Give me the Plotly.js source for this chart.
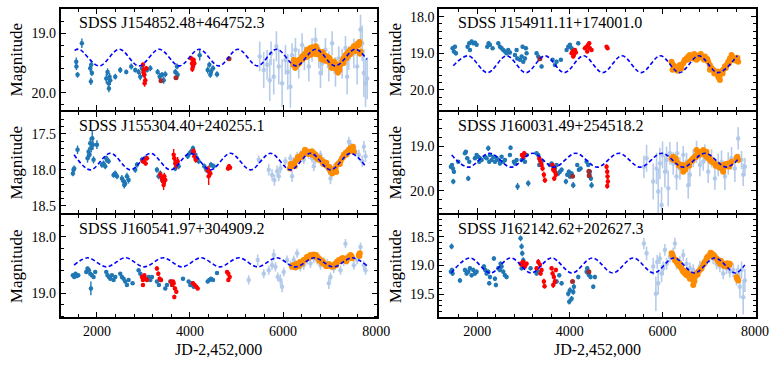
<!DOCTYPE html>
<html>
<head>
<meta charset="utf-8">
<script src="https://cdn.plot.ly/plotly-3.0.1.min.js"></script>
<style>body{margin:0;background:#fff}#plotArea{width:780px;height:365px}</style>
</head>
<body>
<div id="plotArea"></div>
<script>
// light curves, rows are [JD-2452000, magnitude, error]
var names = ["SDSS J154852.48+464752.3", "SDSS J154911.11+174001.0", "SDSS J155304.40+240255.1",
	"SDSS J160031.49+254518.2", "SDSS J160541.97+304909.2", "SDSS J162142.62+202627.3"];

// ---- J154852.48+464752.3
var p1Crts = [[1556,19.48,.07],[1560,19.56,.06],[1584,19.70,.05],[1677,19.17,.08],
	[1857,19.59,.06],[1878,19.53,.07],[1892,19.67,.05],[1871,19.81,.06],
	[2201,19.76,.08],[2229,19.65,.06],[2251,19.84,.07],[2272,19.73,.06],[2287,19.79,.08],[2258,19.93,.06],
	[2394,19.73,.05],[2502,19.62,.05],[2631,19.65,.04],[2738,19.56,.05],[2824,19.62,.04],
	[2896,19.65,.05],[2932,19.73,.06],[2968,19.59,.05],[3018,19.70,.05],[3075,19.62,.04],[3147,19.59,.05],
	[3305,19.65,.05],[3348,19.73,.06],[3398,19.70,.05],[3434,19.79,.06],[3469,19.69,.05],
	[3684,19.65,.05],[3720,19.56,.05],[3735,19.70,.06],[4208,19.37,.09],
	[4380,19.62,.06],[4416,19.53,.05],[4451,19.65,.06],[4494,19.59,.05],[4437,19.70,.05],[4580,19.69,.05]];
var p1Red = [[2989,19.53,.04],[3004,19.62,.05],[3018,19.70,.05],[3039,19.79,.06],[3061,19.59,.04],[3025,19.84,.06],[3000,19.66,.05],
	[4021,19.42,.04],[4043,19.51,.04],[4064,19.56,.05],[4079,19.45,.04],[4093,19.51,.04],[4050,19.60,.05],[4070,19.48,.04]];
var p1Dark = [[3376,19.80,.02],[3699,19.75,.02],[4839,19.43,.02]];
var p1Lb = [[5498,19.39,.25],[5584,19.62,.30],[5656,19.53,.25],[5713,19.79,.35],[5742,19.34,.20],[5799,19.73,.30],
	[5856,19.22,.25],[5907,19.56,.30],[5978,19.84,.40],[6050,19.45,.25],[6100,19.65,.30],[6157,19.90,.35],
	[6193,19.37,.20],[6265,19.28,.20],[6337,19.51,.25],[6408,19.20,.20],[6458,19.42,.20],[6552,19.56,.25],
	[6623,19.28,.20],[6695,19.11,.20],[6767,19.39,.20],[6803,19.67,.25],[6838,19.51,.20],[6910,19.28,.20],
	[6982,19.56,.25],[7053,19.17,.20],[7125,19.65,.25],[7197,19.42,.20],[7268,19.51,.25],[7340,19.25,.20],
	[7376,19.73,.30],[7412,19.42,.20],[7519,19.34,.25],[7591,19.56,.30],[7663,18.94,.25],[7699,19.17,.30],
	[7734,19.67,.40],[7770,19.84,.40],[7806,19.76,.35]];
var p1Ztf = [[6215,19.53,.05],[6243,19.49,.05],[6272,19.56,.05],[6301,19.48,.05],[6337,19.45,.05],[6372,19.44,.05],
	[6408,19.39,.05],[6444,19.37,.05],[6480,19.34,.05],[6516,19.28,.05],[6552,19.33,.05],[6588,19.25,.05],
	[6623,19.31,.05],[6659,19.28,.05],[6695,19.35,.05],[6731,19.27,.05],[6767,19.35,.05],[6803,19.37,.05],
	[6838,19.39,.05],[6874,19.42,.05],[6910,19.38,.05],[6946,19.45,.05],[6982,19.48,.05],[7018,19.51,.05],
	[7053,19.53,.05],[7089,19.55,.05],[7125,19.59,.05],[7161,19.62,.05],[7197,19.56,.05],[7233,19.53,.05],
	[7268,19.48,.05],[7304,19.42,.05],[7340,19.37,.05],[7376,19.34,.05],[7412,19.31,.05],[7448,19.28,.05],
	[7484,19.27,.05],[7519,19.22,.05],[7555,19.25,.05],[7627,19.20,.05],[7648,19.34,.05],[7663,19.31,.05],
	[6230,19.45,.05],[6320,19.52,.05],[6500,19.40,.05],[6600,19.36,.05],[6700,19.22,.05],[6850,19.32,.05],
	[7000,19.42,.05],[7100,19.48,.05],[7180,19.66,.05],[7300,19.50,.05],[7450,19.35,.05],[7500,19.26,.05],
	[6260,19.58,.05],[6350,19.50,.05],[6420,19.44,.05],[6530,19.38,.05],[6620,19.24,.05],[6680,19.32,.05],
	[6760,19.30,.05],[6820,19.44,.05],[6900,19.46,.05],[6960,19.40,.05],[7040,19.58,.05],[7140,19.52,.05],
	[7210,19.62,.05],[7290,19.44,.05],[7360,19.42,.05],[7430,19.36,.05],[7540,19.30,.05],[7600,19.18,.05],[7640,19.15,.05]];
var p1CurveX = [1520,1620,2050,2480,2905,3340,3770,4200,4620,5030,5450,5860,6280,6700,7120,7550,7800];
var p1CurveY = [19.29,19.27,19.55,19.27,19.55,19.27,19.55,19.27,19.55,19.27,19.55,19.27,19.55,19.27,19.55,19.27,19.44];

// ---- J154911.11+174001.0
var p2Crts = [[1467,18.86,.05],[1496,18.95,.05],[1518,18.82,.05],[1539,19.00,.06],
	[1791,18.82,.05],[1827,18.73,.05],[1878,18.68,.05],[1914,18.73,.05],[1950,18.71,.05],[1986,18.77,.05],[1842,18.91,.05],
	[2216,18.82,.05],[2245,18.73,.05],[2274,18.77,.05],[2331,18.86,.05],
	[2454,18.73,.05],[2490,18.82,.05],[2526,18.86,.05],[2562,18.91,.05],[2598,18.95,.05],[2634,19.00,.05],[2670,18.91,.05],[2706,18.98,.05],
	[2814,19.05,.05],[2864,19.14,.05],[2922,19.18,.05],[2958,19.09,.05],[2994,19.23,.05],[3030,19.14,.05],[3066,19.00,.05],
	[2850,18.91,.05],[2979,18.82,.05],[3051,18.86,.05],
	[3282,19.00,.05],[3318,19.09,.05],[3390,19.36,.05],
	[3627,19.18,.05],[3678,19.32,.05],[3714,19.23,.05],[3807,19.18,.05],
	[3930,18.91,.05],[3966,18.82,.05],[4002,18.77,.05],[4038,18.86,.05],[4182,18.73,.05]];
var p2Red = [[4038,19.00,.05],[4059,18.95,.05],[4088,19.05,.05],[4110,18.91,.05],[4074,19.09,.05],[4131,18.98,.05],
	[4326,18.86,.05],[4362,18.82,.06],[4398,18.77,.06],[4434,18.86,.05],[4470,18.91,.05],[4376,18.95,.05],[4419,18.73,.06],
	[4794,18.82,.04],[4815,18.86,.04]];
var p2Dark = [[3354,19.15,.02]];
var p2Lb = [];
var p2Ztf = [[6198,19.23,.05],[6219,19.45,.05],[6234,19.32,.05],[6270,19.41,.05],[6306,19.45,.05],[6342,19.36,.05],
	[6378,19.32,.05],[6414,19.41,.05],[6450,19.27,.05],[6486,19.18,.05],[6522,19.14,.05],[6558,19.09,.05],
	[6594,19.05,.05],[6630,19.07,.05],[6666,19.14,.05],[6702,19.09,.05],[6738,19.18,.05],[6774,19.11,.05],
	[6810,19.05,.05],[6846,19.09,.05],[6882,19.14,.05],[6918,19.09,.05],[6954,19.18,.05],[6990,19.23,.05],
	[7026,19.32,.05],[7062,19.41,.05],[7098,19.45,.05],[7134,19.50,.05],[7170,19.55,.05],[7206,19.64,.05],
	[7242,19.59,.05],[7278,19.50,.05],[7314,19.45,.05],[7350,19.36,.05],[7386,19.32,.05],[7422,19.23,.05],
	[7458,19.14,.05],[7494,19.05,.05],[7530,19.18,.05],[7566,19.14,.05],[7602,19.18,.05],[7638,19.23,.05],
	[7242,19.73,.05],[7026,19.45,.05],[6738,19.07,.05],
	[6250,19.38,.05],[6330,19.48,.05],[6400,19.37,.05],[6470,19.22,.05],[6540,19.18,.05],[6610,19.12,.05],
	[6690,19.02,.05],[6760,19.14,.05],[6830,19.02,.05],[6900,19.18,.05],[6970,19.16,.05],[7040,19.38,.05],
	[7120,19.55,.05],[7190,19.50,.05],[7230,19.68,.05],[7300,19.55,.05],[7370,19.40,.05],[7440,19.28,.05],
	[7510,19.10,.05],[7580,19.20,.05],[7620,19.12,.05]];
var p2CurveX = [1482,1806,2221,2636,3051,3466,3881,4296,4711,5126,5541,5956,6371,6786,7201,7616];
var p2CurveY = [19.34,19.07,19.53,19.07,19.53,19.07,19.53,19.07,19.53,19.07,19.53,19.07,19.53,19.07,19.53,19.07];

// ---- J155304.40+240255.1
var p3Crts = [[1484,18.05,.04],[1498,18.00,.04],[1513,17.98,.04],[1584,17.72,.06],
	[1799,17.84,.06],[1821,17.75,.06],[1842,17.79,.05],[1857,17.63,.08],[1878,17.70,.06],[1914,17.65,.07],
	[1928,17.86,.05],[1900,17.56,.10],[2000,17.65,.06],
	[2108,17.93,.04],[2143,17.91,.04],[2179,17.95,.04],[2215,17.86,.04],[2251,17.88,.04],[2201,17.84,.04],
	[2358,18.07,.04],[2394,18.05,.04],[2430,18.09,.04],
	[2538,18.12,.05],[2573,18.16,.05],[2609,18.19,.05],[2645,18.09,.05],[2681,18.14,.05],[2588,18.21,.05],
	[2824,18.00,.04],[2860,17.93,.04],[2968,17.86,.04],[3004,17.88,.04],[3039,17.84,.04],
	[3290,18.00,.04],[3326,18.09,.04],[3362,18.05,.04],[3398,18.14,.04],
	[3684,17.98,.04],[3720,17.91,.04],[3756,17.95,.04],
	[3950,17.81,.04],[3993,17.77,.04],[4021,17.75,.04],[4064,17.70,.04],[4115,17.79,.04],[4150,17.84,.04],[4186,17.88,.04],
	[4308,17.95,.04],[4351,18.00,.04],[4401,18.02,.04],[4451,17.93,.04],[4509,17.95,.04]];
var p3Red = [[2989,17.88,.03],[3018,17.86,.03],[3047,17.91,.03],[3075,17.84,.03],
	[3362,18.07,.05],[3398,18.12,.05],[3419,18.16,.06],[3448,18.09,.05],[3469,18.14,.06],[3434,18.21,.07],
	[3649,17.79,.08],[3663,17.84,.06],[3684,17.91,.06],[3706,17.93,.06],[3735,17.88,.06],
	[4064,17.75,.04],[4079,17.74,.04],[4093,17.81,.04],[4122,17.86,.04],
	[4380,18.00,.05],[4408,18.02,.08],[4437,18.05,.05],[4401,18.09,.12],
	[4817,17.98,.03],[4839,17.95,.03],[4860,17.97,.03]];
var p3Dark = [];
var p3Lb = [[5476,17.86,.06],[5691,18.00,.08],[5763,18.07,.08],[5813,18.14,.08],[5871,18.02,.08],[5907,18.09,.07],
	[5942,17.98,.07],[6050,17.88,.06],[6157,17.84,.06],[6193,18.09,.08],[6229,17.88,.06],[6301,17.81,.06],
	[6372,17.79,.06],[6444,17.86,.06],[6552,17.79,.06],[6623,17.84,.06],[6659,17.95,.07],[6695,17.86,.06],
	[6803,17.79,.06],[6874,17.88,.06],[6982,18.00,.07],[7018,18.12,.08],[7053,18.02,.07],[7089,17.98,.06],
	[7161,17.93,.06],[7233,17.86,.06],[7304,17.79,.06],[7412,17.61,.07],[7448,17.65,.07],[7484,17.70,.06],
	[7555,17.75,.07],[7627,17.79,.07],[7699,17.88,.08],[7734,17.68,.08],[7770,17.81,.08]];
var p3Ztf = [[6143,17.98,.03],[6172,17.95,.03],[6200,17.93,.03],[6229,17.91,.03],[6265,17.88,.03],[6301,17.86,.03],
	[6337,17.84,.03],[6372,17.81,.03],[6408,17.78,.03],[6444,17.77,.03],[6480,17.75,.03],[6516,17.75,.03],
	[6552,17.75,.03],[6588,17.77,.03],[6623,17.79,.03],[6659,17.77,.03],[6695,17.79,.03],[6731,17.84,.03],
	[6767,17.86,.03],[6803,17.86,.03],[6838,17.88,.03],[6874,17.89,.03],[6910,17.93,.03],[6946,17.95,.03],
	[6982,17.98,.03],[7018,18.02,.03],[7053,18.05,.03],[7089,18.00,.03],[7125,17.98,.03],[7161,17.93,.03],
	[7197,17.91,.03],[7233,17.88,.03],[7268,17.84,.03],[7304,17.79,.03],[7340,17.77,.03],[7376,17.75,.03],
	[7412,17.72,.03],[7448,17.70,.03],[7484,17.71,.03],[7519,17.75,.03],
	[6160,17.92,.03],[6250,17.95,.03],[6320,17.82,.03],[6400,17.82,.03],[6470,17.72,.03],[6540,17.78,.03],
	[6620,17.74,.03],[6700,17.82,.03],[6780,17.83,.03],[6860,17.92,.03],[6930,17.90,.03],[7000,17.96,.03],
	[7070,18.02,.03],[7140,18.03,.03],[7220,17.92,.03],[7290,17.82,.03],[7360,17.79,.03],[7430,17.74,.03],[7500,17.68,.03]];
var p3CurveX = [1510,1860,2290,2720,3150,3580,4010,4440,4870,5300,5730,6160,6590,7020,7450,7780];
var p3CurveY = [17.79,18.00,17.77,18.00,17.77,18.00,17.77,18.00,17.77,18.00,17.77,18.00,17.77,18.00,17.77,17.96];

// ---- J160031.49+254518.2
var p4Crts = [[1431,19.46,.04],[1453,19.42,.04],[1474,19.50,.04],[1482,19.79,.06],[1496,19.57,.05],[1590,19.35,.04],
	[1734,19.16,.04],[1755,19.13,.04],[1784,19.27,.04],[1806,19.72,.06],[1827,19.35,.04],
	[1950,19.27,.04],[1986,19.20,.04],[2022,19.24,.04],[2058,19.27,.04],[2094,19.31,.04],[2043,19.35,.04],
	[2166,19.24,.04],[2202,19.27,.04],[2238,19.05,.06],[2274,19.20,.04],[2310,19.31,.04],[2346,19.24,.04],[2259,19.35,.04],
	[2382,19.35,.04],[2418,19.27,.04],[2454,19.31,.04],[2490,19.39,.04],[2526,19.24,.04],[2562,19.35,.04],[2598,19.31,.04],
	[2720,19.04,.05],[2706,19.20,.04],[2792,19.35,.04],[2850,19.31,.04],[2814,19.39,.04],[2871,19.90,.08],[3102,19.83,.07],
	[2958,19.31,.04],[2994,19.27,.04],[3030,19.35,.04],[3066,19.20,.04],
	[3282,19.16,.04],[3318,19.20,.04],[3354,19.31,.04],[3390,19.35,.04],[3339,19.42,.04],
	[3570,19.42,.04],[3606,19.39,.04],[3642,19.46,.04],[3678,19.50,.04],[3714,19.42,.04],
	[3750,19.61,.05],[3786,19.57,.05],[3822,19.53,.05],
	[3915,19.79,.06],[3944,19.64,.05],[3980,19.57,.05],[4002,19.68,.05],[4038,19.61,.05],[4074,19.87,.07],
	[4160,19.42,.04],[4196,19.53,.04],[4232,19.50,.04],
	[4362,19.35,.04],[4398,19.42,.04],[4434,19.57,.05],[4455,19.72,.06],[4470,19.87,.07],[4419,19.64,.05]];
var p4Red = [[2965,19.20,.04],[2994,19.24,.04],[3015,19.16,.05],
	[3339,19.27,.05],[3368,19.35,.05],[3390,19.42,.05],[3411,19.50,.06],[3440,19.64,.07],[3462,19.76,.06],
	[3627,19.42,.05],[3656,19.50,.05],[3678,19.57,.06],[3699,19.64,.06],[3663,19.72,.06],[3642,19.53,.06],
	[4794,19.46,.06],[4808,19.57,.06],[4815,19.68,.06],[4822,19.79,.07],[4808,19.89,.06]];
var p4Dark = [[4059,19.67,.02],[4412,19.56,.02],[4419,19.66,.02]];
var p4Lb = [[5600,19.46,.25],[5658,19.27,.30],[5802,19.79,.40],[5874,19.50,.35],[5910,20.01,.50],[5946,19.39,.35],
	[5982,20.31,.40],[6003,19.20,.30],[6054,19.57,.35],[6090,19.31,.30],[6126,19.94,.40],[6162,19.16,.25],
	[6234,19.39,.25],[6306,19.68,.30],[6320,19.16,.25],[6378,19.50,.25],[6450,19.20,.20],[6522,19.35,.20],
	[6558,19.87,.30],[6594,19.64,.25],[6666,19.27,.20],[6738,19.13,.25],[6810,19.42,.25],[6882,19.35,.20],
	[6918,19.16,.20],[6990,19.57,.25],[7062,19.27,.20],[7134,19.72,.25],[7206,19.42,.25],[7278,19.35,.25],
	[7350,19.68,.30],[7422,19.39,.25],[7494,19.27,.25],[7566,19.50,.30],[7638,18.83,.25],[7710,19.31,.20],
	[7746,19.64,.25],[7782,19.46,.20]];
var p4Ztf = [[6198,19.27,.05],[6234,19.24,.05],[6270,19.31,.05],[6306,19.35,.05],[6342,19.39,.05],[6378,19.42,.05],
	[6414,19.46,.05],[6450,19.50,.05],[6486,19.48,.05],[6522,19.42,.05],[6558,19.39,.05],[6594,19.35,.05],
	[6630,19.31,.05],[6666,19.27,.05],[6702,19.24,.05],[6738,19.20,.05],[6774,19.21,.05],[6810,19.19,.05],
	[6846,19.13,.05],[6882,19.09,.05],[6918,19.20,.05],[6954,19.24,.05],[6990,19.27,.05],[7026,19.31,.05],
	[7062,19.35,.05],[7098,19.36,.05],[7134,19.39,.05],[7170,19.42,.05],[7206,19.46,.05],[7242,19.48,.05],
	[7278,19.50,.05],[7314,19.42,.05],[7350,19.46,.05],[7386,19.44,.05],[7422,19.39,.05],[7458,19.42,.05],
	[7494,19.35,.05],[7602,19.27,.05],[7638,19.31,.05],[6738,19.09,.05],[6954,19.13,.05],[6450,19.57,.05],[7314,19.57,.05],
	[6220,19.30,.05],[6290,19.28,.05],[6360,19.44,.05],[6430,19.42,.05],[6500,19.52,.05],[6580,19.44,.05],
	[6650,19.33,.05],[6720,19.25,.05],[6790,19.15,.05],[6860,19.16,.05],[6940,19.16,.05],[7010,19.24,.05],
	[7080,19.32,.05],[7150,19.44,.05],[7230,19.42,.05],[7300,19.52,.05],[7370,19.40,.05],[7440,19.46,.05],
	[7480,19.38,.05],[7620,19.24,.05]];
var p4CurveX = [1447,1806,2270,2730,3200,3660,4130,4590,5060,5520,5990,6450,6920,7380,7640];
var p4CurveY = [19.20,19.47,19.16,19.47,19.16,19.47,19.16,19.47,19.16,19.47,19.16,19.47,19.16,19.47,19.29];

// ---- J160541.97+304909.2
var p5Crts = [[1484,18.68,.03],[1513,18.71,.03],[1541,18.65,.03],[1570,18.69,.03],[1599,18.68,.03],
	[1771,18.62,.03],[1799,18.56,.03],[1828,18.59,.03],[1857,18.65,.03],[1892,18.68,.03],[1871,18.91,.12],[1928,18.71,.03],[1964,18.62,.03],
	[2201,18.62,.03],[2229,18.68,.03],[2258,18.71,.03],[2287,18.74,.03],[2323,18.68,.03],[2358,18.76,.03],[2394,18.71,.03],
	[2502,18.65,.03],[2538,18.71,.03],[2573,18.74,.03],[2609,18.79,.03],[2645,18.85,.03],[2681,18.76,.03],[2767,18.82,.03],
	[2896,18.59,.03],[2932,18.65,.03],
	[3075,18.74,.03],[3111,18.71,.03],[3147,18.76,.03],[3183,18.71,.03],
	[3290,18.79,.03],[3333,18.85,.03],[3376,18.76,.03],[3469,18.91,.03],[3505,18.85,.03],
	[3577,18.79,.03],[3613,18.85,.03],[3849,18.74,.03],
	[3971,18.79,.03],[4007,18.85,.03],[4043,18.82,.03],[4079,18.88,.03],
	[4380,18.79,.03],[4416,18.76,.03],[4451,18.74,.03],[4494,18.76,.03],[4580,18.64,.03]];
var p5Red = [[2968,18.71,.03],[2989,18.76,.03],[3018,18.68,.03],[3047,18.74,.03],[3075,18.76,.03],[2989,18.85,.03],
	[3290,18.56,.04],[3319,18.65,.04],[3348,18.74,.04],[3376,18.76,.03],
	[3591,18.79,.03],[3620,18.85,.03],[3649,18.82,.03],[3677,18.91,.04],[3706,18.97,.04],[3663,19.06,.04],[3634,18.79,.03],
	[4064,18.82,.03],[4100,18.85,.03],[4136,18.88,.03],[4165,18.91,.03],
	[4796,18.62,.03],[4824,18.65,.04],[4853,18.71,.03],[4824,18.76,.03]];
var p5Dark = [];
var p5Lb = [[5261,18.76,.08],[5455,18.41,.10],[5584,18.65,.08],[5692,18.59,.08],[5763,18.50,.08],[5799,18.32,.10],
	[5835,18.53,.08],[5885,18.71,.08],[5942,18.76,.10],[5978,18.88,.10],[6014,18.62,.08],[6086,18.41,.08],
	[6157,18.50,.08],[6229,18.41,.08],[6301,18.29,.08],[6372,18.53,.08],[6444,18.50,.08],[6516,18.41,.08],
	[6588,18.47,.08],[6659,18.38,.08],[6731,18.41,.08],[6803,18.50,.08],[6874,18.44,.08],[6946,18.47,.08],
	[6982,18.82,.10],[7018,18.71,.08],[7089,18.56,.08],[7161,18.47,.08],[7233,18.59,.08],[7304,18.44,.08],
	[7340,18.12,.08],[7376,18.41,.08],[7448,18.35,.08],[7519,18.50,.08],[7591,18.41,.08],[7663,18.18,.08],
	[7734,18.50,.08],[7770,18.59,.08]];
var p5Ztf = [[6193,18.53,.03],[6229,18.50,.03],[6265,18.54,.03],[6301,18.47,.03],[6337,18.52,.03],[6372,18.44,.03],
	[6408,18.47,.03],[6444,18.41,.03],[6480,18.40,.03],[6516,18.35,.03],[6552,18.37,.03],[6588,18.32,.03],
	[6623,18.34,.03],[6659,18.31,.03],[6695,18.35,.03],[6731,18.35,.03],[6767,18.38,.03],[6803,18.41,.03],
	[6838,18.46,.03],[6874,18.47,.03],[6910,18.50,.03],[6946,18.50,.03],[6982,18.48,.03],[7018,18.52,.03],
	[7053,18.53,.03],[7089,18.52,.03],[7125,18.47,.03],[7161,18.44,.03],[7197,18.41,.03],[7233,18.40,.03],
	[7268,18.38,.03],[7304,18.41,.03],[7340,18.40,.03],[7376,18.38,.03],[7412,18.35,.03],[7448,18.32,.03],
	[7484,18.38,.03],[7627,18.32,.03],[7648,18.29,.03],
	[6210,18.50,.03],[6280,18.51,.03],[6350,18.48,.03],[6420,18.44,.03],[6500,18.38,.03],[6570,18.34,.03],
	[6640,18.33,.03],[6710,18.32,.03],[6780,18.42,.03],[6850,18.43,.03],[6930,18.52,.03],[7000,18.50,.03],
	[7070,18.50,.03],[7140,18.50,.03],[7220,18.43,.03],[7290,18.38,.03],[7360,18.43,.03],[7430,18.34,.03],
	[7470,18.34,.03],[7640,18.34,.03]];
var p5CurveX = [1510,1800,2206,2612,3018,3424,3830,4236,4642,5048,5454,5860,6266,6672,7078,7484,7800];
var p5CurveY = [18.50,18.37,18.53,18.37,18.53,18.37,18.53,18.37,18.53,18.37,18.53,18.37,18.53,18.37,18.53,18.37,18.51];

// ---- J162142.62+202627.3
var p6Crts = [[1446,18.67,.05],[1431,19.11,.04],[1467,19.14,.04],[1453,19.08,.04],[1626,19.26,.04],
	[1734,19.08,.04],[1770,19.14,.04],[1806,19.11,.04],[1842,19.05,.04],[1878,19.17,.04],[1914,19.08,.04],[1950,19.14,.04],[1986,19.11,.04],
	[2144,19.02,.04],[2173,19.08,.04],[2202,19.14,.04],[2238,19.11,.04],[2259,19.31,.04],[2274,19.20,.04],
	[2360,18.88,.04],[2382,19.23,.04],[2403,19.34,.04],
	[2454,19.05,.04],[2490,19.08,.04],[2526,19.02,.04],[2562,19.11,.04],[2598,19.17,.04],[2634,19.20,.04],[2504,18.97,.04],
	[2936,18.53,.05],[2958,18.67,.05],[2972,18.79,.05],[2994,18.91,.05],[2958,19.05,.04],
	[3152,19.05,.04],[3282,19.14,.04],[3318,19.11,.04],
	[3771,19.17,.04],[3714,19.28,.04],[3822,19.31,.04],
	[3966,19.49,.05],[4002,19.43,.05],[4038,19.58,.05],[4074,19.46,.05],[4088,19.37,.05],[3987,19.63,.05],
	[4182,19.20,.04],[4362,19.11,.04],[4398,19.14,.04],[4419,19.17,.04],[4448,19.20,.04],[4376,19.05,.04],
	[4506,19.37,.04],[4542,19.20,.04]];
var p6Red = [[2936,18.97,.04],[2972,18.99,.04],[2994,18.94,.04],[3030,19.02,.04],[3066,18.97,.04],
	[3282,19.05,.04],[3318,18.94,.05],[3354,18.99,.04],[3390,19.08,.04],[3368,19.14,.04],
	[3440,19.28,.05],[3454,19.36,.04],
	[3606,19.05,.04],[3627,19.14,.05],[3656,19.20,.05],[3678,19.28,.05],[3642,19.34,.05],[3699,19.08,.04]];
var p6Dark = [[4059,19.28,.02],[4412,19.11,.02]];
var p6Lb = [[5600,18.62,.10],[5658,18.79,.12],[5802,19.02,.15],[5859,19.49,.30],[5888,18.94,.12],[5910,19.31,.20],
	[5946,18.88,.10],[5982,19.14,.15],[6018,19.05,.12],[6054,18.73,.10],[6090,18.97,.10],[6162,18.85,.10],
	[6234,18.79,.10],[6270,18.62,.10],[6306,18.97,.10],[6378,18.94,.10],[6450,18.82,.10],[6522,18.97,.10],
	[6594,19.05,.10],[6666,19.08,.10],[6738,19.17,.10],[6810,19.02,.10],[6882,18.99,.10],[6954,18.91,.10],
	[7026,18.85,.10],[7098,18.88,.10],[7170,18.97,.10],[7242,19.02,.10],[7314,19.14,.10],[7386,19.05,.10],
	[7458,19.11,.10],[7530,19.08,.12],[7602,19.20,.15],[7638,19.14,.15],[7674,19.37,.20],[7710,19.08,.15],
	[7746,19.55,.30],[7782,19.26,.20]];
var p6Ztf = [[6198,18.79,.04],[6234,18.85,.04],[6270,18.91,.04],[6306,18.94,.04],[6342,18.99,.04],[6378,19.02,.04],
	[6414,19.05,.04],[6450,19.11,.04],[6486,19.14,.04],[6522,19.17,.04],[6558,19.14,.04],[6594,19.23,.04],
	[6630,19.17,.04],[6666,19.26,.04],[6702,19.20,.04],[6738,19.14,.04],[6774,19.11,.04],[6810,19.08,.04],
	[6846,19.05,.04],[6882,18.99,.04],[6918,18.94,.04],[6954,18.88,.04],[6990,18.84,.04],[7026,18.82,.04],
	[7062,18.79,.04],[7098,18.85,.04],[7134,18.85,.04],[7170,18.88,.04],[7206,18.91,.04],[7242,18.97,.04],
	[7278,18.94,.04],[7314,18.97,.04],[7350,18.99,.04],[7386,19.02,.04],[7422,18.99,.04],[7458,18.97,.04],
	[7602,19.20,.04],[7638,19.26,.04],[6666,19.34,.04],
	[6215,18.82,.04],[6290,18.90,.04],[6360,18.96,.04],[6430,19.08,.04],[6500,19.10,.04],[6580,19.20,.04],
	[6650,19.21,.04],[6690,19.28,.04],[6760,19.16,.04],[6830,19.06,.04],[6900,18.96,.04],[6970,18.86,.04],
	[7040,18.78,.04],[7110,18.82,.04],[7190,18.92,.04],[7260,18.92,.04],[7330,19.01,.04],[7400,18.96,.04],
	[7440,19.00,.04],[7620,19.24,.04]];
var p6CurveX = [1440,1842,2283,2724,3165,3606,4047,4488,4929,5370,5811,6252,6693,7134,7575,7780];
var p6CurveY = [19.13,18.87,19.13,18.87,19.13,18.87,19.13,18.87,19.13,18.87,19.13,18.87,19.13,18.87,19.13,18.99];

var panels = [
	{crts: p1Crts, red: p1Red, dark: p1Dark, lb: p1Lb, ztf: p1Ztf, cx: p1CurveX, cy: p1CurveY},
	{crts: p2Crts, red: p2Red, dark: p2Dark, lb: p2Lb, ztf: p2Ztf, cx: p2CurveX, cy: p2CurveY},
	{crts: p3Crts, red: p3Red, dark: p3Dark, lb: p3Lb, ztf: p3Ztf, cx: p3CurveX, cy: p3CurveY},
	{crts: p4Crts, red: p4Red, dark: p4Dark, lb: p4Lb, ztf: p4Ztf, cx: p4CurveX, cy: p4CurveY},
	{crts: p5Crts, red: p5Red, dark: p5Dark, lb: p5Lb, ztf: p5Ztf, cx: p5CurveX, cy: p5CurveY},
	{crts: p6Crts, red: p6Red, dark: p6Dark, lb: p6Lb, ztf: p6Ztf, cx: p6CurveX, cy: p6CurveY}
];

// axis placement, in paper fractions of the 780x365 page
var xDom = [[0.0778, 0.4829], [0.5632, 0.9688]];
var yDom = [[0.6986, 0.9745], [0.4164, 0.6923], [0.1307, 0.4101]];
var xRange = [[1222, 8010], [1180, 8015]];
var yRange = [[20.29, 18.60], [20.55, 17.80], [18.60, 17.20], [20.49, 18.25], [19.42, 17.62], [19.90, 18.13]];
var yStep = [1, 1, 0.5, 1, 1, 0.5];

function points(rows, color, size, errWidth, ax, ay) {
	return {
		x: rows.map(function (r) { return r[0]; }),
		y: rows.map(function (r) { return r[1]; }),
		error_y: {type: "data", array: rows.map(function (r) { return r[2]; }), color: color, thickness: errWidth, width: 0},
		type: "scatter",
		mode: "markers",
		marker: {color: color, size: size},
		xaxis: ax,
		yaxis: ay,
		showlegend: false,
		hoverinfo: "skip"
	};
}

var data = [];
var layout = {
	width: 780,
	height: 365,
	margin: {l: 0, r: 0, t: 0, b: 0},
	paper_bgcolor: "white",
	plot_bgcolor: "white",
	font: {family: "Liberation Serif, serif", color: "black", size: 14},
	showlegend: false,
	annotations: []
};

panels.forEach(function (p, i) {
	var col = i % 2, row = Math.floor(i / 2);
	var s = i === 0 ? "" : String(i + 1);
	var ax = "x" + s, ay = "y" + s;

	data.push(points(p.lb, "rgba(174,199,232,0.9)", 4.5, 1.6, ax, ay));
	data.push(points(p.crts, "#1f77b4", 4.5, 1.4, ax, ay));
	data.push(points(p.red, "#ff0000", 4.5, 1.4, ax, ay));
	data.push(points(p.dark, "#a52a2a", 5, 1, ax, ay));
	data.push(points(p.ztf, "#ff8c00", 6, 2, ax, ay));
	data.push({
		x: p.cx, y: p.cy, type: "scatter", mode: "lines",
		line: {color: "#0000ff", width: 1.6, dash: "4px,2.5px", shape: "spline", smoothing: 1},
		xaxis: ax, yaxis: ay, showlegend: false, hoverinfo: "skip"
	});

	var common = {
		showline: true, mirror: "allticks", linewidth: 2, linecolor: "black",
		ticks: "inside", ticklen: 5, tickwidth: 1, tickcolor: "black",
		showgrid: false, zeroline: false
	};
	layout["xaxis" + s] = Object.assign({}, common, {
		domain: xDom[col], range: xRange[col], anchor: ay,
		tick0: 0, dtick: 2000,
		minor: {ticks: "inside", ticklen: 3, tickwidth: 1, tickcolor: "black", dtick: 400},
		showticklabels: row === 2,
		tickfont: {size: 14},
		title: row === 2 ? {text: "JD-2,452,000", font: {size: 16}, standoff: 6} : {text: ""}
	});
	layout["yaxis" + s] = Object.assign({}, common, {
		domain: yDom[row], range: yRange[i], anchor: ax,
		tick0: 0, dtick: yStep[i], tickformat: ".1f",
		minor: {ticks: "inside", ticklen: 3, tickwidth: 1, tickcolor: "black", dtick: yStep[i] / 5},
		tickfont: {size: 14},
		title: {text: "Magnitude", font: {size: 17}, standoff: 4}
	});
	layout.annotations.push({
		text: names[i], xref: "paper", yref: "paper",
		x: xDom[col][0] + 0.021, y: yDom[row][1] - 0.008,
		xanchor: "left", yanchor: "top", showarrow: false,
		font: {size: 16}
	});
});

Plotly.newPlot("plotArea", data, layout, {staticPlot: true});
</script>
</body>
</html>
